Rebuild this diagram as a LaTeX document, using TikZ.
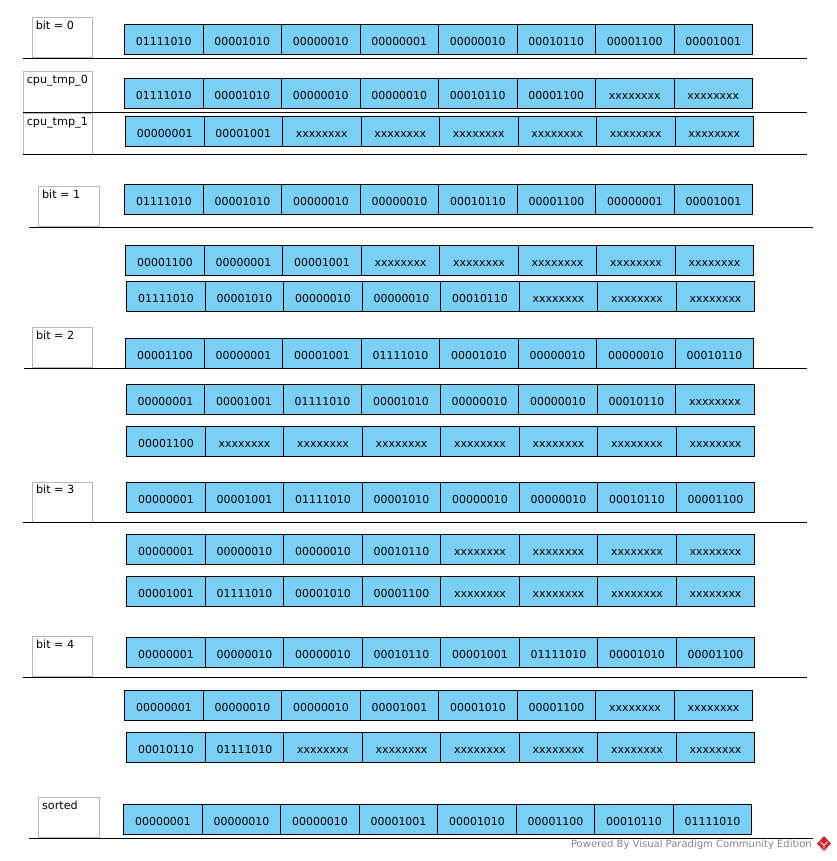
\documentclass[tikz,border=0pt]{standalone}
\usepackage{fontspec}
\setmainfont{DejaVu Sans}
\definecolor{cellblue}{RGB}{122,207,245}
\definecolor{boxgray}{RGB}{185,185,185}
\definecolor{footgray}{RGB}{135,135,135}
\definecolor{vpred}{RGB}{200,40,45}
\tikzset{
  cell/.style={draw=black, line width=0.75pt, fill=cellblue, anchor=north west,
    minimum width=58.875pt, minimum height=22.5pt, inner sep=0pt,
    text height=9pt, text depth=0pt, font=\fontsize{8.2pt}{9pt}\selectfont},
  lbox/.style={draw=boxgray, line width=0.75pt, anchor=north west, inner sep=0pt},
  ltext/.style={anchor=base west, inner sep=0pt, font=\fontsize{8.4pt}{9pt}\selectfont},
  sepline/.style={draw=black, line width=0.75pt},
}
\newcommand\cellrow[4]{%
  \foreach \v [count=\i] in {#4} {
    \node[cell] (#1\i) at ({#2+(\i-1)*78.5},#3) {\v};
  }}
\newcommand\labelbox[6]{% name, x, y, w, h, text
  \node[lbox, minimum width=#4*0.75pt, minimum height=#5*0.75pt] (#1) at (#2,#3) {};
  \node[ltext] (#1t) at ([shift={(3.5,12)}]#1.north west) {#6};}
\begin{document}
\begin{tikzpicture}[x=0.75pt,y=-0.75pt]
\useasboundingbox (0,0) rectangle (836,861);
% bit = 0
\labelbox{bA}{32}{17}{60}{40}{bit = 0}
\cellrow{A}{124}{24}{01111010,00001010,00000010,00000001,00000010,00010110,00001100,00001001}
\draw[sepline] (23,58) -- (807,58);
% cpu_tmp_0
\labelbox{bB}{23}{71}{69}{41}{cpu\_tmp\_0}
\cellrow{B}{124}{78}{01111010,00001010,00000010,00000010,00010110,00001100,xxxxxxxx,xxxxxxxx}
\draw[sepline] (23,112.3) -- (807,112.3);
% cpu_tmp_1
\labelbox{bC}{23}{113}{69}{40.5}{cpu\_tmp\_1}
\cellrow{C}{125}{115.5}{00000001,00001001,xxxxxxxx,xxxxxxxx,xxxxxxxx,xxxxxxxx,xxxxxxxx,xxxxxxxx}
\draw[sepline] (23,154.3) -- (807,154.3);
% bit = 1
\labelbox{bD}{38.3}{186}{60.3}{40}{bit = 1}
\cellrow{D}{124.3}{184.3}{01111010,00001010,00000010,00000010,00010110,00001100,00000001,00001001}
\draw[sepline] (29.3,227.5) -- (813,227.5);
\cellrow{E}{125.3}{245.3}{00001100,00000001,00001001,xxxxxxxx,xxxxxxxx,xxxxxxxx,xxxxxxxx,xxxxxxxx}
\cellrow{F}{126.3}{281.3}{01111010,00001010,00000010,00000010,00010110,xxxxxxxx,xxxxxxxx,xxxxxxxx}
% bit = 2
\labelbox{bG}{32.3}{327.3}{60}{40}{bit = 2}
\cellrow{G}{125.3}{338.3}{00001100,00000001,00001001,01111010,00001010,00000010,00000010,00010110}
\draw[sepline] (23.5,368.6) -- (807,368.6);
\cellrow{H}{125.7}{384.3}{00000001,00001001,01111010,00001010,00000010,00000010,00010110,xxxxxxxx}
\cellrow{I}{126.3}{425.6}{00001100,xxxxxxxx,xxxxxxxx,xxxxxxxx,xxxxxxxx,xxxxxxxx,xxxxxxxx,xxxxxxxx}
% bit = 3
\labelbox{bJ}{32.3}{481.7}{60}{40}{bit = 3}
\cellrow{J}{126.3}{482.3}{00000001,00001001,01111010,00001010,00000010,00000010,00010110,00001100}
\draw[sepline] (23.3,522.3) -- (807,522.3);
\cellrow{K}{126.3}{534.3}{00000001,00000010,00000010,00010110,xxxxxxxx,xxxxxxxx,xxxxxxxx,xxxxxxxx}
\cellrow{L}{126.3}{576.3}{00001001,01111010,00001010,00001100,xxxxxxxx,xxxxxxxx,xxxxxxxx,xxxxxxxx}
% bit = 4
\labelbox{bM}{32.3}{636.3}{60}{40}{bit = 4}
\cellrow{M}{126.3}{637.3}{00000001,00000010,00000010,00010110,00001001,01111010,00001010,00001100}
\draw[sepline] (23.3,677.3) -- (807.3,677.3);
\cellrow{N}{124.3}{689.6}{00000001,00000010,00000010,00001001,00001010,00001100,xxxxxxxx,xxxxxxxx}
\cellrow{O}{126.3}{731.6}{00010110,01111010,xxxxxxxx,xxxxxxxx,xxxxxxxx,xxxxxxxx,xxxxxxxx,xxxxxxxx}
% sorted
\labelbox{bP}{38.3}{797.3}{60.3}{39.7}{sorted}
\cellrow{P}{123.3}{803.6}{00000001,00000010,00000010,00001001,00001010,00001100,00010110,01111010}
\draw[sepline] (29.3,838.3) -- (813,838.3);
% footer
\node[anchor=base east, inner sep=0pt, text=footgray, font=\fontsize{7.5pt}{8pt}\selectfont] (foot) at (812,847) {Powered By Visual Paradigm Community Edition};
\fill[vpred] (824,836) -- (831,843.5) -- (824,851) -- (817,843.5) -- cycle;
\draw[white, line width=0.6pt] (820,842) -- (824,845) -- (828,842) (824,845) -- (824,849);
\end{tikzpicture}
\end{document}
